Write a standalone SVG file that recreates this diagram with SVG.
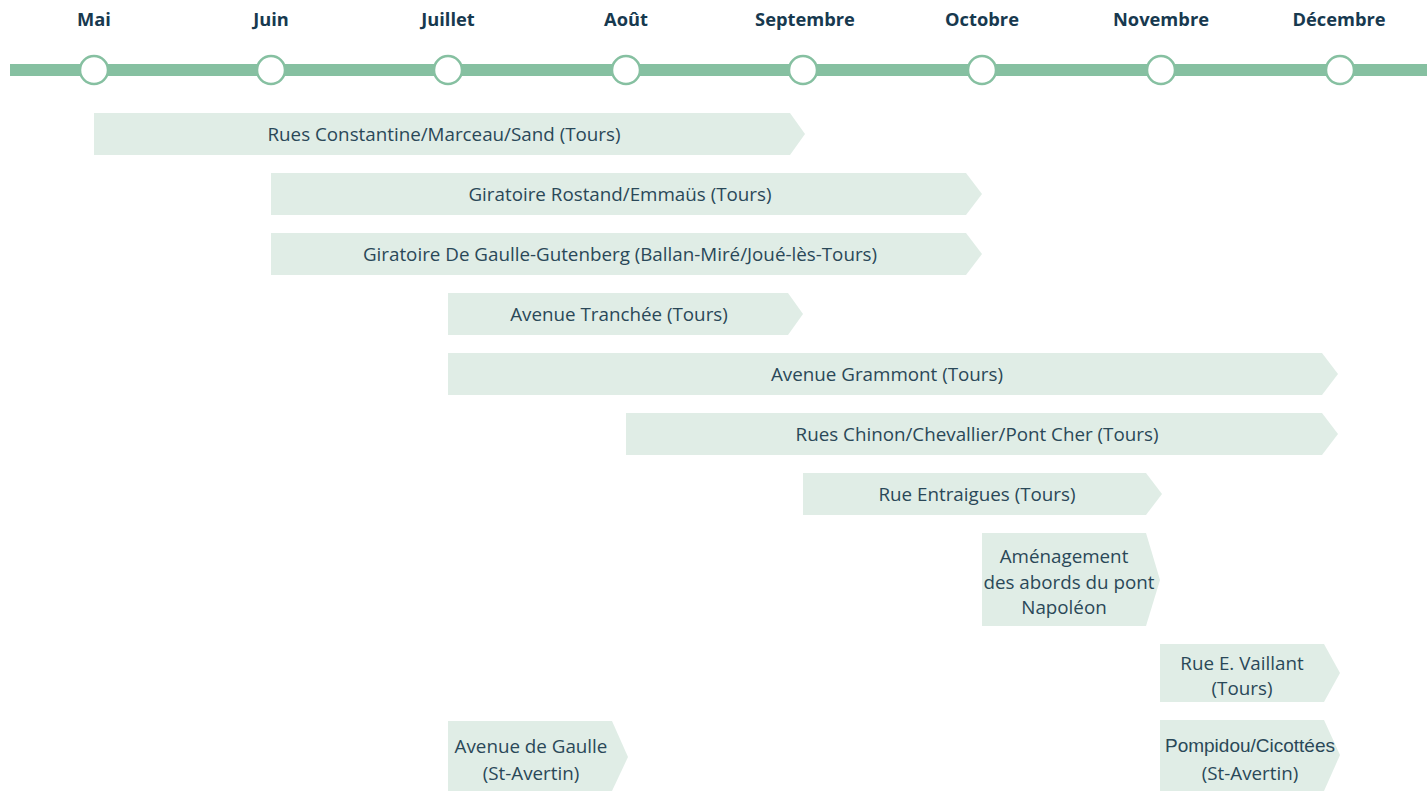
<svg xmlns="http://www.w3.org/2000/svg" width="1427" height="791" viewBox="0 0 1427 791">
<style>
.m{font-family:"Open Sans","Liberation Sans",sans-serif;font-weight:700;font-size:18.3px;fill:#17394f;text-anchor:middle}
.b{fill:#e0ede6}
.t{font-family:"Open Sans","Liberation Sans",sans-serif;font-size:18.8px;fill:#2a4858;text-anchor:middle}
.a{font-family:"Liberation Sans",Arial,sans-serif;font-size:19px;fill:#2a4858;text-anchor:middle}
.c{fill:#fff;stroke:#86c0a1;stroke-width:2.5}
</style>
<rect width="1427" height="791" fill="#fff"/>
<g id="timeline">
<rect x="10" y="64" width="1417" height="12" fill="#86c0a1"/>
<circle class="c" cx="94" cy="70" r="14"/>
<circle class="c" cx="271" cy="70" r="14"/>
<circle class="c" cx="448" cy="70" r="14"/>
<circle class="c" cx="626" cy="70" r="14"/>
<circle class="c" cx="803" cy="70" r="14"/>
<circle class="c" cx="982" cy="70" r="14"/>
<circle class="c" cx="1161" cy="70" r="14"/>
<circle class="c" cx="1340" cy="70" r="14"/>
<text class="m" x="94" y="26">Mai</text>
<text class="m" x="271" y="26">Juin</text>
<text class="m" x="448" y="26">Juillet</text>
<text class="m" x="626" y="26">Août</text>
<text class="m" x="805" y="26">Septembre</text>
<text class="m" x="982" y="26">Octobre</text>
<text class="m" x="1161" y="26">Novembre</text>
<text class="m" x="1339" y="26">Décembre</text>
</g>
<g id="bar1"><polygon class="b" points="94,113 790,113 805,134 790,155 94,155"/><text class="t" x="444" y="141">Rues Constantine/Marceau/Sand (Tours)</text></g>
<g id="bar2"><polygon class="b" points="271,173 966,173 982,194 966,215 271,215"/><text class="t" x="620" y="201">Giratoire Rostand/Emmaüs (Tours)</text></g>
<g id="bar3"><polygon class="b" points="271,233 966,233 982,254 966,275 271,275"/><text class="t" x="620" y="261">Giratoire De Gaulle-Gutenberg (Ballan-Miré/Joué-lès-Tours)</text></g>
<g id="bar4"><polygon class="b" points="448,293 788,293 803,314 788,335 448,335"/><text class="t" x="619" y="321">Avenue Tranchée (Tours)</text></g>
<g id="bar5"><polygon class="b" points="448,353 1322,353 1338,374 1322,395 448,395"/><text class="t" x="887" y="381">Avenue Grammont (Tours)</text></g>
<g id="bar6"><polygon class="b" points="626,413 1322,413 1338,434 1322,455 626,455"/><text class="t" x="977" y="441">Rues Chinon/Chevallier/Pont Cher (Tours)</text></g>
<g id="bar7"><polygon class="b" points="803,473 1146,473 1162,494 1146,515 803,515"/><text class="t" x="977" y="501">Rue Entraigues (Tours)</text></g>
<g id="bar8"><polygon class="b" points="982,533 1146,533 1160,580 1146,626 982,626"/><text class="t" x="1064" y="563">Aménagement</text><text class="t" x="1069" y="589">des abords du pont</text><text class="t" x="1064" y="614">Napoléon</text></g>
<g id="bar9"><polygon class="b" points="1160,644 1324,644 1340,673 1324,702 1160,702"/><text class="t" x="1242" y="670">Rue E. Vaillant</text><text class="t" x="1242" y="695">(Tours)</text></g>
<g id="bar10"><polygon class="b" points="448,721 612,721 628,757 612,791 448,791"/><text class="t" x="531" y="753">Avenue de Gaulle</text><text class="t" x="531" y="780">(St-Avertin)</text></g>
<g id="bar11"><polygon class="b" points="1160,720 1324,720 1340,755 1324,791 1160,791"/><text class="a" x="1250" y="752">Pompidou/Cicottées</text><text class="t" x="1250" y="780">(St-Avertin)</text></g>
</svg>
